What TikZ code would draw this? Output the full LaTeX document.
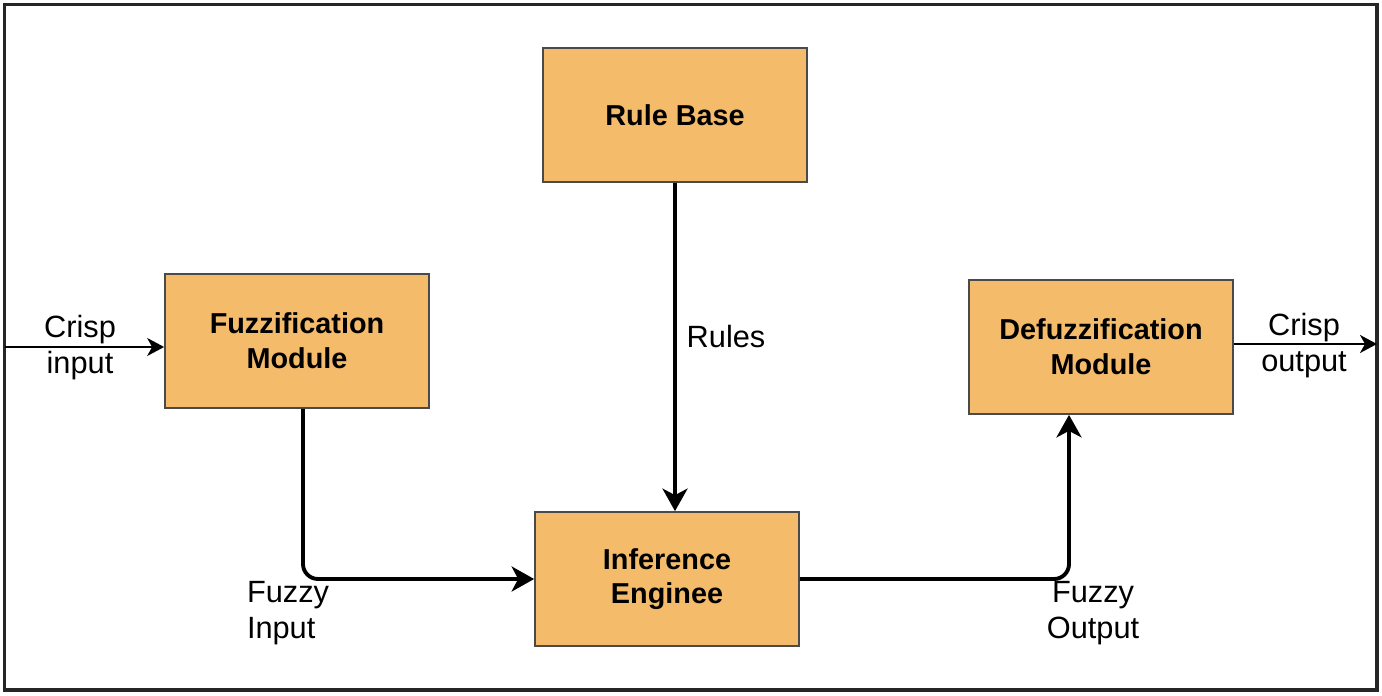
\documentclass[tikz,border=0pt]{standalone}
\usepackage{fontspec}
\setmainfont{Liberation Sans}
\usepackage{tikz}
\usetikzlibrary{arrows.meta,positioning,calc}
\definecolor{boxfill}{HTML}{F4BB6B}
\definecolor{boxline}{HTML}{4A4A4A}

\begin{document}
\begin{tikzpicture}[x=0.02cm, y=-0.02cm,
  module/.style={draw=boxline, line width=1pt, fill=boxfill, minimum width=5.28cm,
    minimum height=2.68cm, align=center, font=\fontsize{16.4}{19.7}\selectfont\bfseries},
  lbl/.style={align=center, font=\fontsize{17.5}{20.5}\selectfont},
  flow/.style={line width=2.2pt, rounded corners=0.3cm,
    -{Stealth[length=0.45cm,width=0.5cm,inset=0.13cm]}},
  io/.style={line width=1.1pt, -{Stealth[length=0.34cm,width=0.36cm,inset=0.1cm]}}]
  \useasboundingbox (0,0) rectangle (1382,696);

  % Outer frame
  \draw[line width=2.2pt, black!85] (4.5,4.5) rectangle (1377,690);

  % Modules
  \node[module] (rule) at (675,115) {Rule Base};
  \node[module] (fuzz) at (297,341) {Fuzzification\\Module};
  \node[module] (inf) at (667,579) {Inference\\Enginee};
  \node[module] (defuzz) at (1101,347) {Defuzzification\\Module};

  % Crisp input / output ends on the frame
  \coordinate (in) at (4.5,347);
  \coordinate (out) at (1377,344);
  \draw[io] (in) -- (in -| fuzz.west);
  \draw[io] (defuzz.east |- out) -- (out);

  % Main flow
  \draw[flow] (rule.south) -- (rule.south |- inf.north);
  \draw[flow] ([xshift=0.12cm]fuzz.south) |- (inf.west);
  \draw[flow] (inf.east) -| ([xshift=-0.64cm]defuzz.south);

  % Labels
  \node[lbl] (crispin) at (80,348) {Crisp\\input};
  \node[lbl] (crispout) at (1304,346) {Crisp\\output};
  \node[lbl] (rules) at (726,337) {Rules};
  \node[lbl, align=left] (fzin) at (288,613) {Fuzzy\\Input};
  \node[lbl] (fzout) at (1093,613) {Fuzzy\\Output};
\end{tikzpicture}
\end{document}
